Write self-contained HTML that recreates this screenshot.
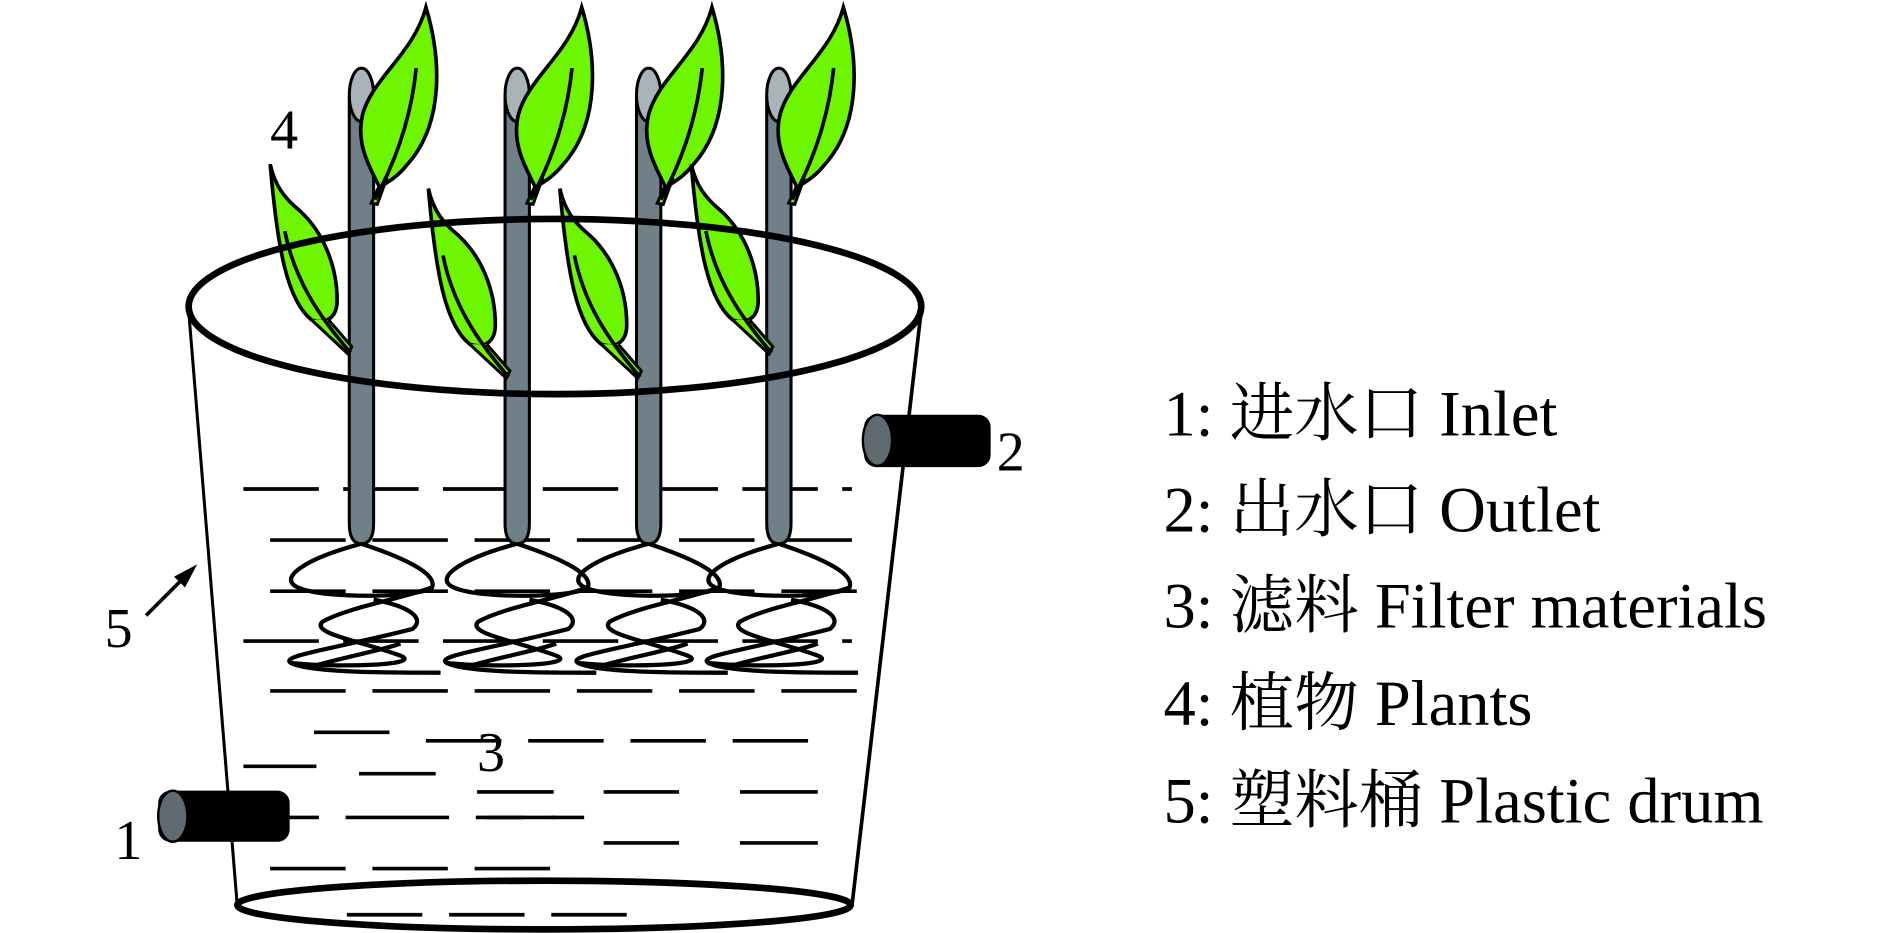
<!DOCTYPE html>
<html><head><meta charset="utf-8"><style>
html,body{margin:0;padding:0;background:#fff;}
svg{display:block;}
text{font-family:"Liberation Serif","Noto Serif CJK SC",serif;fill:#000;}
</style></head><body>
<svg width="1890" height="933" viewBox="0 0 1553 767" preserveAspectRatio="none" xmlns="http://www.w3.org/2000/svg">
<defs>
<g id="upleaf">
<path d="M0,0 C12,40 16,95 -16,130 C-24,140 -32,144 -38,148 C-46,132 -58,112 -52,88 C-44,58 -10,38 0,0 Z" fill="#6ef500" stroke="#000" stroke-width="3"/>
<path d="M-38,146 L-45,161 L-40,162 L-32,140" fill="#6ef500" stroke="#000" stroke-width="2.5"/>
<path d="M-8,50 C-12,90 -24,125 -42,158" fill="none" stroke="#000" stroke-width="3"/>
</g>
<g id="lowleaf">
<path d="M0,0 C4,18 12,28 24,38 C44,56 55,84 55,112 C55,126 46,132 34,128 C14,112 6,70 0,0 Z" fill="#6ef500" stroke="#000" stroke-width="3"/>
<path d="M34,128 L64,156 L67,150 L48,128" fill="#6ef500" stroke="#000" stroke-width="2.5"/>
<path d="M12,55 C20,95 40,125 66,155" fill="none" stroke="#000" stroke-width="3"/>
</g>
<g id="stem">
<path d="M-10,80 L-10,430 Q-10,447 0,447 Q10,447 10,430 L10,80 Z" fill="#6f8088" stroke="#000" stroke-width="2.5"/>
<ellipse cx="0" cy="78" rx="10" ry="22" fill="#a9b4b8" stroke="#000" stroke-width="2.5"/>
</g>
<g id="root" fill="none" stroke="#000" stroke-width="3.5">
<path d="M0,0 C-45,12 -70,28 -52,36 C-30,46 50,44 58,36 C62,26 42,14 0,0"/>
<path d="M58,36 C30,46 -10,52 -32,64 C-42,74 0,80 32,92 C52,100 -20,102 -58,98 C-68,92 -20,86 42,70 C52,62 42,52 10,46"/>
<path d="M-58,98 C-42,106 20,106 65,106"/>
<path d="M-45,102 C-10,92 20,87 32,82"/>
</g>
</defs>
<rect width="1553" height="767" fill="#fff"/>
<line x1="155" y1="255" x2="195" y2="745" stroke="#000" stroke-width="2.5"/>
<line x1="757" y1="255" x2="700" y2="745" stroke="#000" stroke-width="3"/>
<g stroke="#000" stroke-width="3">
<line x1="200" y1="402" x2="700" y2="402" stroke-dasharray="62,20"/>
<line x1="222" y1="444" x2="700" y2="444" stroke-dasharray="62,22"/>
<line x1="222" y1="486" x2="715" y2="486" stroke-dasharray="62,22"/>
<line x1="200" y1="527" x2="700" y2="527" stroke-dasharray="62,20"/>
<line x1="222" y1="568" x2="715" y2="568" stroke-dasharray="62,22"/>
<line x1="258" y1="602" x2="320" y2="602"/>
<line x1="350" y1="609" x2="672" y2="609" stroke-dasharray="62,22"/>
<line x1="200" y1="630" x2="260" y2="630"/>
<line x1="295" y1="636" x2="358" y2="636"/>
<line x1="392" y1="651" x2="455" y2="651"/>
<line x1="496" y1="651" x2="558" y2="651"/>
<line x1="608" y1="651" x2="672" y2="651"/>
<line x1="222" y1="672" x2="480" y2="672" stroke-dasharray="40,22,85,22"/>
<line x1="400" y1="672" x2="456" y2="672"/>
<line x1="496" y1="693" x2="558" y2="693"/>
<line x1="608" y1="693" x2="672" y2="693"/>
<line x1="222" y1="714" x2="458" y2="714" stroke-dasharray="62,22"/>
<line x1="285" y1="752" x2="535" y2="752" stroke-dasharray="62,22"/>
</g>
<use href="#root" x="297" y="447"/>
<use href="#root" x="425" y="447"/>
<use href="#root" x="533" y="447"/>
<use href="#root" x="640" y="447"/>
<use href="#stem" x="297" y="0"/>
<use href="#stem" x="425" y="0"/>
<use href="#stem" x="533" y="0"/>
<use href="#stem" x="640" y="0"/>
<use href="#upleaf" x="350" y="6"/>
<use href="#upleaf" x="478" y="6"/>
<use href="#upleaf" x="585" y="6"/>
<use href="#upleaf" x="693" y="6"/>
<use href="#lowleaf" x="222" y="135"/>
<use href="#lowleaf" x="352" y="155"/>
<use href="#lowleaf" x="460" y="155"/>
<use href="#lowleaf" x="568" y="135"/>
<ellipse cx="456" cy="252" rx="301" ry="72" fill="none" stroke="#000" stroke-width="5.5"/>
<ellipse cx="447" cy="744" rx="252" ry="20" fill="none" stroke="#000" stroke-width="5.5"/>
<rect x="710" y="341" width="104" height="43" rx="10" fill="#000"/>
<ellipse cx="721" cy="362" rx="12" ry="21" fill="#5f6b70" stroke="#000" stroke-width="2"/>
<rect x="130" y="650" width="108" height="42" rx="10" fill="#000"/>
<ellipse cx="142" cy="671" rx="12" ry="21" fill="#5f6b70" stroke="#000" stroke-width="2"/>
<line x1="120" y1="506" x2="152" y2="474" stroke="#000" stroke-width="3"/>
<polygon points="162,464 143,474 152,483" fill="#000"/>
<text x="222" y="122" font-size="46">4</text>
<text x="819" y="387" font-size="46">2</text>
<text x="94" y="706" font-size="46">1</text>
<text x="86" y="532" font-size="46">5</text>
<text x="392" y="634" font-size="46">3</text>
<g font-size="53">
<text x="956" y="358">1: 进水口 Inlet</text>
<text x="956" y="437">2: 出水口 Outlet</text>
<text x="956" y="516">3: 滤料 Filter materials</text>
<text x="956" y="596">4: 植物 Plants</text>
<text x="956" y="676">5: 塑料桶 Plastic drum</text>
</g>
</svg>
</body></html>
